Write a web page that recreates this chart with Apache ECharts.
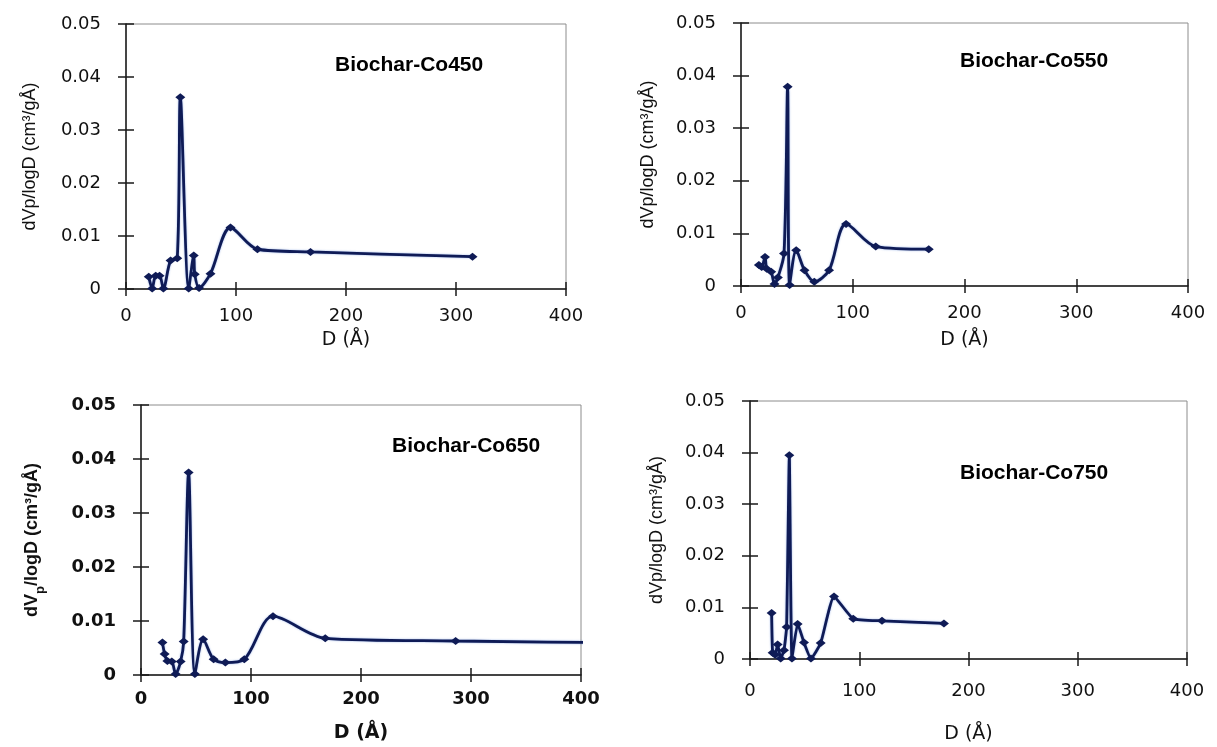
<!DOCTYPE html>
<html>
<head>
<meta charset="utf-8">
<script src="https://cdn.jsdelivr.net/npm/echarts@6/dist/echarts.min.js"></script>
<style>
  html, body { margin: 0; background: #fff; }
  #chart { width: 1217px; height: 747px; }
</style>
</head>
<body>
<div id="chart"></div>
<script>
// pore size distributions
const titles = ['Biochar-Co450', 'Biochar-Co550', 'Biochar-Co650', 'Biochar-Co750']

const d450 = [20.7, 23.8, 27, 30.5, 34, 40.5, 46.6, 49.4, 57, 61.6, 62.5, 66.4, 76.8, 95, 119.5, 167.7, 315]
const v450 = [0.0023, 0.0001, 0.0025, 0.0025, 0.0001, 0.0054, 0.0058, 0.0362, 0.0001, 0.0063, 0.0028, 0.0002, 0.0029, 0.0116, 0.0075, 0.0070, 0.0061]

const d550 = [16, 18.5, 21.5, 23, 27, 30, 33, 38.5, 41.7, 43.5, 49.4, 56.8, 65.6, 78.8, 94, 120.6, 168]
const v550 = [0.0040, 0.0036, 0.0055, 0.0033, 0.0027, 0.0004, 0.0016, 0.0062, 0.0379, 0.0002, 0.0068, 0.0030, 0.0008, 0.0030, 0.0118, 0.0075, 0.0070]

const d650 = [19.5, 21.5, 24, 28, 31.5, 36, 38.8, 43.3, 49, 56.5, 66, 76.7, 93.9, 120, 167.5, 286, 480]
const v650 = [0.0060, 0.0039, 0.0026, 0.0025, 0.0002, 0.0025, 0.0062, 0.0375, 0.0002, 0.0066, 0.0029, 0.0023, 0.0029, 0.0109, 0.0068, 0.0063, 0.0059]

const d750 = [19.8, 20.7, 23, 25.3, 28.1, 31.1, 33.5, 36, 38.4, 43.6, 49.4, 55.8, 64.7, 76.9, 94.5, 120.8, 177.5]
const v750 = [0.0089, 0.0012, 0.0008, 0.0028, 0.0001, 0.0017, 0.0062, 0.0395, 0.0001, 0.0068, 0.0032, 0.0001, 0.0031, 0.0121, 0.0078, 0.0074, 0.0069]

const xTicks = [0, 100, 200, 300, 400]
const yTicks = [0, 0.01, 0.02, 0.03, 0.04, 0.05]

const dataSets = [[d450, v450], [d550, v550], [d650, v650], [d750, v750]]

const yNamePlain = 'dVp/logD (cm³/gÅ)'
const yNameSub = '{t|dV}{s|p}{t|/logD (cm³/gÅ)}'

const panels = [
  { grid: { left: 126, top: 24, width: 440, height: 265 }, title: { left: 330, top: 50 }, size: 18, weight: 'normal', xMargin: 18, yGap: 87, xGap: 42, yName: yNamePlain, smooth: 0.3 },
  { grid: { left: 741, top: 23, width: 447, height: 263 }, title: { left: 955, top: 46 }, size: 18, weight: 'normal', xMargin: 18, yGap: 84, xGap: 45, yName: yNamePlain, smooth: 0.3 },
  { grid: { left: 141, top: 405, width: 440, height: 270 }, title: { left: 387, top: 431 }, size: 18, weight: 'bold', xMargin: 15, yGap: 94, xGap: 49, yName: yNameSub, smooth: 0.3 },
  { grid: { left: 750, top: 401, width: 437, height: 258 }, title: { left: 955, top: 458 }, size: 18, weight: 'normal', xMargin: 23, yGap: 84, xGap: 66, yName: yNamePlain, smooth: 0.15 }
]

const LINE = '#0f1b56'
const AXIS = '#1a1a1a'

function fmtY(v) {
  return v === 0 ? '0' : (+v.toFixed(2)).toString()
}

const grids = []
const xAxes = []
const yAxes = []
const series = []
const titleList = []

panels.forEach((p, i) => {
  grids.push(Object.assign({ show: true, borderColor: '#8c8c8c', borderWidth: 1 }, p.grid))
  titleList.push({
    text: titles[i], left: p.title.left, top: p.title.top,
    textStyle: { fontFamily: 'Liberation Sans', fontWeight: 'bold', fontSize: 21, color: '#000' }
  })
  const labelStyle = { fontFamily: 'DejaVu Sans', fontSize: p.size, fontWeight: p.weight, color: '#111' }
  const nameFont = { fontFamily: 'Liberation Sans', fontSize: 18, color: '#111', fontWeight: p.weight === 'bold' ? 'bold' : 'normal' }

  // main axes (labels + outer ticks)
  xAxes.push({
    type: 'value', gridIndex: i, position: 'bottom',
    min: xTicks[0], max: xTicks[xTicks.length - 1], interval: xTicks[1] - xTicks[0],
    name: 'D (Å)', nameLocation: 'middle', nameGap: p.xGap,
    nameTextStyle: { fontFamily: 'DejaVu Sans', fontSize: 19, fontWeight: p.weight, color: '#111' },
    axisLine: { lineStyle: { color: AXIS, width: 1.5 } },
    axisTick: { length: 7, lineStyle: { color: AXIS, width: 1.5 } },
    axisLabel: Object.assign({ margin: p.xMargin }, labelStyle),
    splitLine: { show: false }
  })
  yAxes.push({
    type: 'value', gridIndex: i, position: 'left',
    min: yTicks[0], max: yTicks[yTicks.length - 1], interval: yTicks[1] - yTicks[0],
    name: p.yName, nameLocation: 'middle', nameGap: p.yGap, nameRotate: 90,
    nameTextStyle: Object.assign({}, nameFont, {
      rich: {
        t: Object.assign({}, nameFont, { lineHeight: 24, verticalAlign: 'top' }),
        s: Object.assign({}, nameFont, { fontSize: 13, lineHeight: 12, verticalAlign: 'bottom' })
      }
    }),
    axisLine: { lineStyle: { color: AXIS, width: 1.5 } },
    axisTick: { length: 8, lineStyle: { color: AXIS, width: 1.5 } },
    axisLabel: Object.assign({ margin: 25, formatter: fmtY }, labelStyle),
    splitLine: { show: false }
  })
  // overlay axes for the inner half of the cross ticks
  xAxes.push({
    type: 'value', gridIndex: i, position: 'bottom', offset: 0,
    min: xTicks[0], max: xTicks[xTicks.length - 1], interval: xTicks[1] - xTicks[0],
    axisLine: { show: false }, axisLabel: { show: false }, splitLine: { show: false },
    axisTick: { show: true, inside: true, length: 7, lineStyle: { color: AXIS, width: 1.5 } }
  })
  yAxes.push({
    type: 'value', gridIndex: i, position: 'left', offset: 0,
    min: yTicks[0], max: yTicks[yTicks.length - 1], interval: yTicks[1] - yTicks[0],
    axisLine: { show: false }, axisLabel: { show: false }, splitLine: { show: false },
    axisTick: { show: true, inside: true, length: 8, lineStyle: { color: AXIS, width: 1.5 } }
  })

  const [d, v] = dataSets[i]
  series.push({
    type: 'line', name: titles[i],
    xAxisIndex: 2 * i, yAxisIndex: 2 * i,
    data: d.map((x, k) => [x, v[k]]),
    smooth: p.smooth,
    clip: true,
    symbol: 'diamond', symbolSize: [10, 8],
    itemStyle: { color: LINE },
    lineStyle: { color: LINE, width: 2.8, shadowColor: 'rgba(60,110,210,0.55)', shadowBlur: 2 },
    animation: false
  })
})

const chart = echarts.init(document.getElementById('chart'))
chart.setOption({
  backgroundColor: '#fff',
  animation: false,
  title: titleList,
  grid: grids,
  xAxis: xAxes,
  yAxis: yAxes,
  series: series
})
</script>
</body>
</html>
